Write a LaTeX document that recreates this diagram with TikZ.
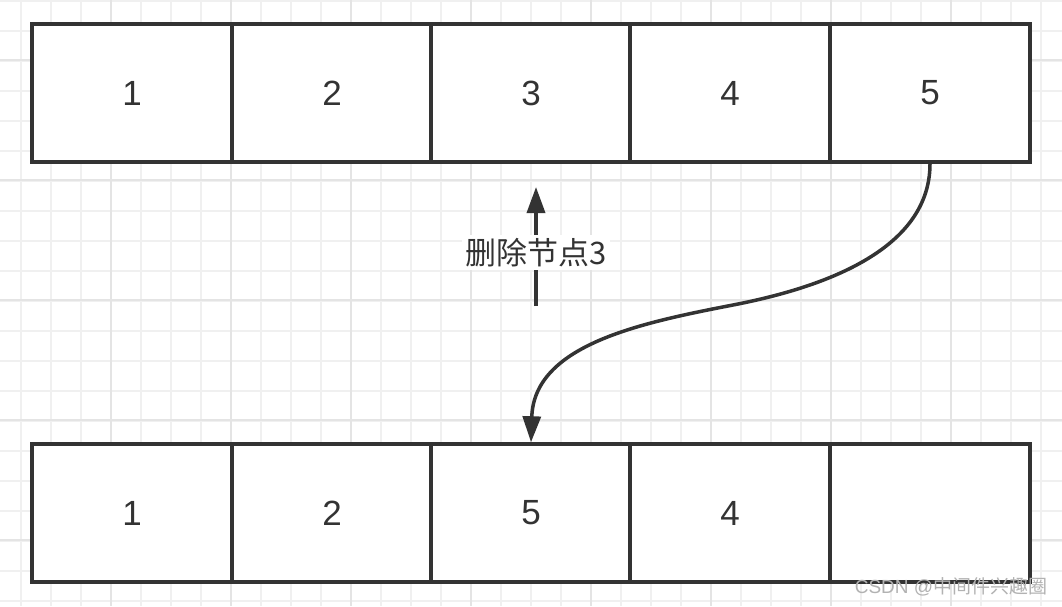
\documentclass[tikz,border=0pt]{standalone}
\usepackage{fontspec}
\setmainfont{Liberation Sans}
\newfontfamily\cjk{Noto Sans CJK SC}
\usepackage{tikz}
\usetikzlibrary{arrows.meta,backgrounds,positioning}
\definecolor{ink}{HTML}{333333}
\definecolor{gridminor}{HTML}{F0F0F0}
\definecolor{gridmajor}{HTML}{E4E4E4}
\tikzstyle{cell}=[rectangle, draw=ink, line width=3.5pt, fill=white, minimum width=200pt, minimum height=138pt, inner sep=0pt, text=ink, font=\fontsize{35}{40}\selectfont]
\tikzstyle{conn}=[draw=ink, line width=3.5pt, -{Triangle[length=26pt,width=18pt]}]
\tikzstyle{tag}=[fill=white, text=ink, inner sep=3pt, font=\cjk\fontsize{31}{36}\selectfont]

\begin{document}
\begin{tikzpicture}[x=1pt,y=-1pt]
\useasboundingbox (0,0) rectangle (1062,606);
\fill[white] (0,0) rectangle (1062,606);
%grid
\foreach \gx in {21,51,...,1041} \draw[gridminor, line width=1.3pt] (\gx,0) -- (\gx,606);
\foreach \gy in {1,31,...,601} \draw[gridminor, line width=1.3pt] (0,\gy) -- (1062,\gy);
\foreach \gx in {111,231,...,951} \draw[gridmajor, line width=1.6pt] (\gx,0) -- (\gx,606);
\foreach \gy in {60,180,...,540} \draw[gridmajor, line width=1.6pt] (0,\gy) -- (1062,\gy);

%Row One
\node[cell] (bx1) at (132,93){1};
\node[cell] (bx2) at (332,93){2};
\node[cell] (bx3) at (531,93){3};
\node[cell] (bx4) at (730,93){4};
\node[cell] (bx5) at (930,93){5};
%Row Two
\node[cell] (r2bx1) at (132,513){1};
\node[cell] (r2bx2) at (332,513){2};
\node[cell] (r2bx3) at (531,513){5};
\node[cell] (r2bx4) at (730,513){4};
\node[cell] (r2bx5) at (930,513){};

%delete arrow
\coordinate (del) at (536,306);
\coordinate (delend) at (536,187);
\draw[conn] (del) -- node[tag, pos=0.45]{删除节点3} (delend);

%move arrow
\coordinate (mv) at (733,305);
\draw[conn] (bx5.south) .. controls (930,255) and (810,290) .. (mv)
  .. controls (640,323) and (534,345) .. (r2bx3.north);

%watermark
\node[text=black!30, font=\fontsize{19}{21}\selectfont] (wm) at (951,587){CSDN @{\cjk 中间件兴趣圈}};
\end{tikzpicture}
\end{document}
